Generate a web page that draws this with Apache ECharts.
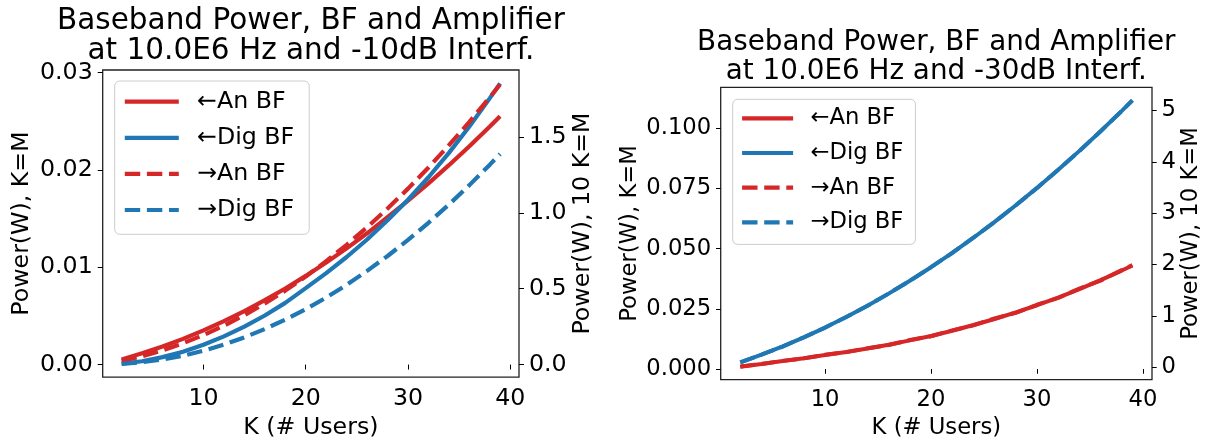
<!DOCTYPE html>
<html>
<head>
<meta charset="utf-8">
<script src="https://cdn.jsdelivr.net/npm/echarts@6/dist/echarts.min.js"></script>
<style>
  html, body { margin: 0; padding: 0; background: #fff; }
  #chart { width: 1205px; height: 445px; }
</style>
</head>
<body>
<div id="chart"></div>
<script>
// Number of users K
const K = [2, 4, 6, 8, 10, 12, 14, 16, 18, 20, 22, 24, 26, 28, 30, 32, 34, 36, 38, 39];

// -10 dB interference: left axis (W, K=M)
const anBF_left_10  = [0.00053, 0.00115, 0.00185, 0.00264, 0.00351, 0.00446, 0.00550, 0.00662, 0.00782, 0.00911,
                       0.01048, 0.01194, 0.01349, 0.01514, 0.01685, 0.01862, 0.02049, 0.02244, 0.02447, 0.02552];
const digBF_left_10 = [0.00009, 0.00034, 0.00076, 0.00132, 0.00203, 0.00289, 0.00389, 0.00504, 0.00634, 0.00785,
                       0.00940, 0.01105, 0.01285, 0.01482, 0.01694, 0.01925, 0.02175, 0.02446, 0.02738, 0.02890];
// -10 dB interference: right axis (W, 10 K=M)
const anBF_right_10  = [0.023, 0.054, 0.093, 0.140, 0.194, 0.256, 0.325, 0.402, 0.487, 0.580,
                        0.681, 0.789, 0.904, 1.028, 1.159, 1.298, 1.445, 1.599, 1.761, 1.845];
const digBF_right_10 = [0.004, 0.015, 0.033, 0.058, 0.091, 0.131, 0.179, 0.234, 0.296, 0.365,
                        0.441, 0.525, 0.617, 0.715, 0.821, 0.934, 1.054, 1.182, 1.317, 1.387];

// -30 dB interference: left axis (W, K=M)
const anBF_left_30  = [0.0010, 0.0021, 0.0033, 0.0045, 0.0058, 0.0071, 0.0085, 0.0101, 0.0119, 0.0137,
                       0.0159, 0.0183, 0.0208, 0.0235, 0.0265, 0.0297, 0.0332, 0.0369, 0.0409, 0.0430];
const digBF_left_30 = [0.00282, 0.00595, 0.00939, 0.01315, 0.01722, 0.02160, 0.02631, 0.03132, 0.03665, 0.04229,
                       0.04825, 0.05453, 0.06110, 0.06801, 0.07522, 0.08275, 0.09060, 0.09874, 0.10722, 0.11157];
// -30 dB interference: right axis (W, 10 K=M)
const anBF_right_30  = [0.012, 0.058, 0.121, 0.170, 0.239, 0.291, 0.367, 0.431, 0.527, 0.600,
                        0.716, 0.813, 0.947, 1.057, 1.214, 1.347, 1.529, 1.685, 1.891, 1.985];
const digBF_right_30 = [0.090, 0.243, 0.400, 0.581, 0.768, 0.977, 1.194, 1.433, 1.679, 1.948,
                        2.223, 2.522, 2.826, 3.154, 3.489, 3.846, 4.210, 4.596, 4.990, 5.196];

// Tick values and labels
const xTicks = [10, 20, 30, 40];
const yTicksL10 = [0, 0.01, 0.02, 0.03];
const yTicksR10 = [0, 0.5, 1.0, 1.5];
const yTicksL30 = [0, 0.025, 0.05, 0.075, 0.1];
const yTicksR30 = [0, 1, 2, 3, 4, 5];

const seriesNames = ['\u2190An BF', '\u2190Dig BF', '\u2192An BF', '\u2192Dig BF'];
const titles10 = ['Baseband Power, BF and Amplifier', 'at 10.0E6 Hz and -10dB Interf.'];
const titles30 = ['Baseband Power, BF and Amplifier', 'at 10.0E6 Hz and -30dB Interf.'];
const xName = 'K (# Users)';
const yNameL = 'Power(W), K=M';
const yNameR = 'Power(W), 10 K=M';

const FONT = '"DejaVu Sans", "Liberation Sans", sans-serif';
const RED = '#d62728';
const BLUE = '#1f77b4';
const SPINE = '#222';

function pairs(ys) { return K.map((k, i) => [k, ys[i]]); }

function line(name, xi, yi, ys, color, dashed, w, dash) {
  return {
    type: 'line', name: name, xAxisIndex: xi, yAxisIndex: yi,
    data: pairs(ys), symbol: 'none', smooth: false, silent: true,
    lineStyle: { color: color, width: w, type: dashed ? dash : 'solid', cap: 'butt' },
    itemStyle: { color: color },
    animation: false
  };
}

function xAxis(gi, fs, tickLen, margin, nameGap) {
  return {
    type: 'value', gridIndex: gi, min: 0.15, max: 40.85,
    axisLine: { show: false },
    splitLine: { show: false },
    axisTick: { show: true, customValues: xTicks, length: tickLen, lineStyle: { color: '#000', width: 1 } },
    axisLabel: { customValues: xTicks, color: '#000', fontSize: fs, fontFamily: FONT, margin: margin },
    name: xName, nameLocation: 'middle', nameGap: nameGap,
    nameTextStyle: { color: '#000', fontSize: fs, fontFamily: FONT }
  };
}

function yAxis(gi, pos, min, max, ticks, digits, fs, tickLen, margin, name, nameGap) {
  return {
    type: 'value', gridIndex: gi, position: pos, min: min, max: max,
    axisLine: { show: false },
    splitLine: { show: false },
    axisTick: { show: true, customValues: ticks, length: tickLen, lineStyle: { color: '#000', width: 1 } },
    axisLabel: {
      customValues: ticks, color: '#000', fontSize: fs, fontFamily: FONT, margin: margin,
      formatter: v => Number(v).toFixed(digits)
    },
    name: name, nameLocation: 'middle', nameRotate: 90, nameGap: nameGap,
    nameTextStyle: { color: '#000', fontSize: fs, fontFamily: FONT }
  };
}

// Legend handles are plain line samples (no marker)
function legend(left, top, fs, lh, gap, pad, iw, textPad) {
  return {
    orient: 'vertical', left: left, top: top, data: seriesNames,
    selectedMode: false,
    itemWidth: iw, itemHeight: 14, itemGap: gap,
    padding: pad,
    backgroundColor: 'rgba(255,255,255,0.8)',
    borderColor: '#cccccc', borderWidth: 1, borderRadius: 5,
    textStyle: { color: '#000', fontSize: fs, fontFamily: FONT, lineHeight: lh, padding: [0, 0, 0, textPad] },
    itemStyle: { opacity: 0, borderWidth: 0 },
    lineStyle: { width: 4.2 }
  };
}

function titleText(x, y, txt, fs) {
  return {
    type: 'text', x: x, y: y, silent: true,
    style: { text: txt, fill: '#000', font: fs + 'px ' + FONT, textAlign: 'center', textVerticalAlign: 'middle' }
  };
}

const DASH_L = [15.4, 6.7];
const DASH_R = [14.8, 6.4];

const option = {
  backgroundColor: '#fff',
  animation: false,
  grid: [
    { left: 102.7, top: 70, width: 416.3, height: 310, show: true, borderColor: SPINE, borderWidth: 1.3, backgroundColor: 'transparent' },
    { left: 720.7, top: 87.3, width: 431.3, height: 296.7, show: true, borderColor: SPINE, borderWidth: 1.3, backgroundColor: 'transparent' }
  ],
  xAxis: [
    xAxis(0, 23.7, 5, 10, 37),
    xAxis(1, 22.7, 4.7, 9.5, 36)
  ],
  yAxis: [
    yAxis(0, 'left', -0.00129, 0.03027, yTicksL10, 2, 23.7, 5, 10, yNameL, 68.7),
    yAxis(0, 'right', -0.0829, 1.9406, yTicksR10, 1, 23.7, 5, 10, yNameR, 49),
    yAxis(1, 'left', -0.00438, 0.1170, yTicksL30, 3, 22.7, 4.7, 9.5, yNameL, 78.8),
    yAxis(1, 'right', -0.244, 5.451, yTicksR30, 0, 22.7, 4.7, 9.5, yNameR, 27.7)
  ],
  legend: [
    legend(114.7, 81, 23.7, 26, 10.1, [7.7, 15, 11.3, 8], 54, 13.3),
    legend(732.7, 99.3, 22.7, 25, 9.7, [6.5, 12, 9.5, 7.3], 51, 12.3)
  ],
  graphic: [
    titleText(310.9, 21, titles10[0], 29.5),
    titleText(310.9, 51, titles10[1], 29.5),
    titleText(936.3, 43, titles30[0], 27.8),
    titleText(936.3, 72, titles30[1], 27.8)
  ],
  series: [
    line(seriesNames[0], 0, 0, anBF_left_10, RED, false, 4.2),
    line(seriesNames[1], 0, 0, digBF_left_10, BLUE, false, 4.2),
    line(seriesNames[2], 0, 1, anBF_right_10, RED, true, 4.2, DASH_L),
    line(seriesNames[3], 0, 1, digBF_right_10, BLUE, true, 4.2, DASH_L),
    line(seriesNames[0], 1, 2, anBF_left_30, RED, false, 4.0),
    line(seriesNames[1], 1, 2, digBF_left_30, BLUE, false, 4.0),
    line(seriesNames[2], 1, 3, anBF_right_30, RED, true, 4.0, DASH_R),
    line(seriesNames[3], 1, 3, digBF_right_30, BLUE, true, 4.0, DASH_R)
  ]
};

const chart = echarts.init(document.getElementById('chart'), null, { renderer: 'canvas' });
chart.setOption(option);
</script>
</body>
</html>
